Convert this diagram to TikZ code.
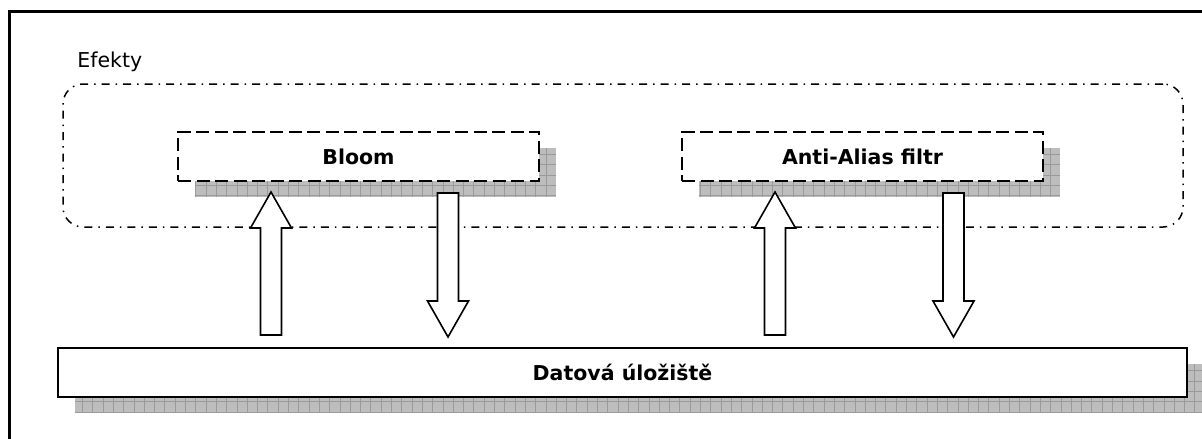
\documentclass[tikz,border=0pt]{standalone}
\usepackage{fontspec}
\setmainfont{DejaVu Sans}
\usetikzlibrary{positioning,backgrounds}
\definecolor{shadowgray}{HTML}{BDBDBD}
\definecolor{shadowline}{HTML}{9A9A9A}

% hatched grey drop shadow, offset to the lower right of a node
\newcommand{\dropshadow}[1]{%
  \begin{scope}
    \clip ([shift={(17,16)}]#1.north west) rectangle ([shift={(17,16)}]#1.south east);
    \fill[shadowgray] ([shift={(17,16)}]#1.north west) rectangle ([shift={(17,16)}]#1.south east);
    \draw[shadowline, line width=0.7pt, step=10.3pt]
      ([shift={(17,16)}]#1.north west) grid ([shift={(17,16)}]#1.south east);
  \end{scope}}

\begin{document}
\begin{tikzpicture}[
  x=1pt, y=-1pt,
  font=\fontsize{20.5}{24}\selectfont,
  frame/.style={draw, line width=3pt},
  group/.style={draw, line width=1.5pt, rounded corners=20pt,
                dash pattern=on 8pt off 6pt on 1.5pt off 6pt,
                minimum width=1120pt, minimum height=143pt},
  lbl/.style={inner sep=0pt, font=\fontsize{20.5}{24}\selectfont},
  effect/.style={draw, line width=1.8pt, dash pattern=on 13pt off 5.5pt, fill=white,
                 minimum width=361pt, minimum height=49pt, outer sep=0pt,
                 font=\fontsize{20.5}{24}\selectfont\bfseries},
  storebox/.style={draw, line width=2pt, fill=white, minimum width=1129pt,
                   minimum height=49pt, outer sep=0pt,
                   font=\fontsize{20.5}{24}\selectfont\bfseries},
  % hollow block arrow from start to tip, #1 = shift of the head base from the tip
  flow/.style={draw, line width=1.6pt, fill=white, miter limit=10,
    to path={([xshift=-10.5pt]\tikztostart) -- ([xshift=-10.5pt,yshift=#1]\tikztotarget)
      -- ([xshift=-20.5pt,yshift=#1]\tikztotarget) -- (\tikztotarget)
      -- ([xshift=20.5pt,yshift=#1]\tikztotarget) -- ([xshift=10.5pt,yshift=#1]\tikztotarget)
      -- ([xshift=10.5pt]\tikztostart) -- cycle}},
  flowup/.style={flow=-36pt},
  flowdown/.style={flow=36pt},
]
\useasboundingbox (0,0) rectangle (1202,439);
\clip (0,0) rectangle (1202,439);

\draw[frame] (9,11) rectangle (1230,470);

% effects group
\node[group] (effects) at (623,155.5) {};
\node[lbl, anchor=base west] (efekty) at ([shift={(15,-16)}]effects.north west) {Efekty};

\node[effect] (bloom) at (358.5,156.5) {Bloom};
\node[effect, right=143pt of bloom] (aa) {Anti-Alias filtr};

% data store
\node[storebox] (store) at (622.5,372.5) {Datová úložiště};

\begin{scope}[on background layer]
  \dropshadow{bloom}
  \dropshadow{aa}
  \dropshadow{store}
\end{scope}

% data flow between store and effects
\coordinate (bloomIn0)  at (271,335);   \coordinate (bloomIn1)  at (271,192);
\coordinate (bloomOut0) at (448,193);   \coordinate (bloomOut1) at (448,337);
\coordinate (aaIn0)     at (775,335);   \coordinate (aaIn1)     at (775,192);
\coordinate (aaOut0)    at (953.5,193); \coordinate (aaOut1)    at (953.5,337);

\draw[flowup] (bloomIn0) to (bloomIn1);
\draw[flowdown] (bloomOut0) to (bloomOut1);
\draw[flowup] (aaIn0) to (aaIn1);
\draw[flowdown] (aaOut0) to (aaOut1);

\end{tikzpicture}
\end{document}
